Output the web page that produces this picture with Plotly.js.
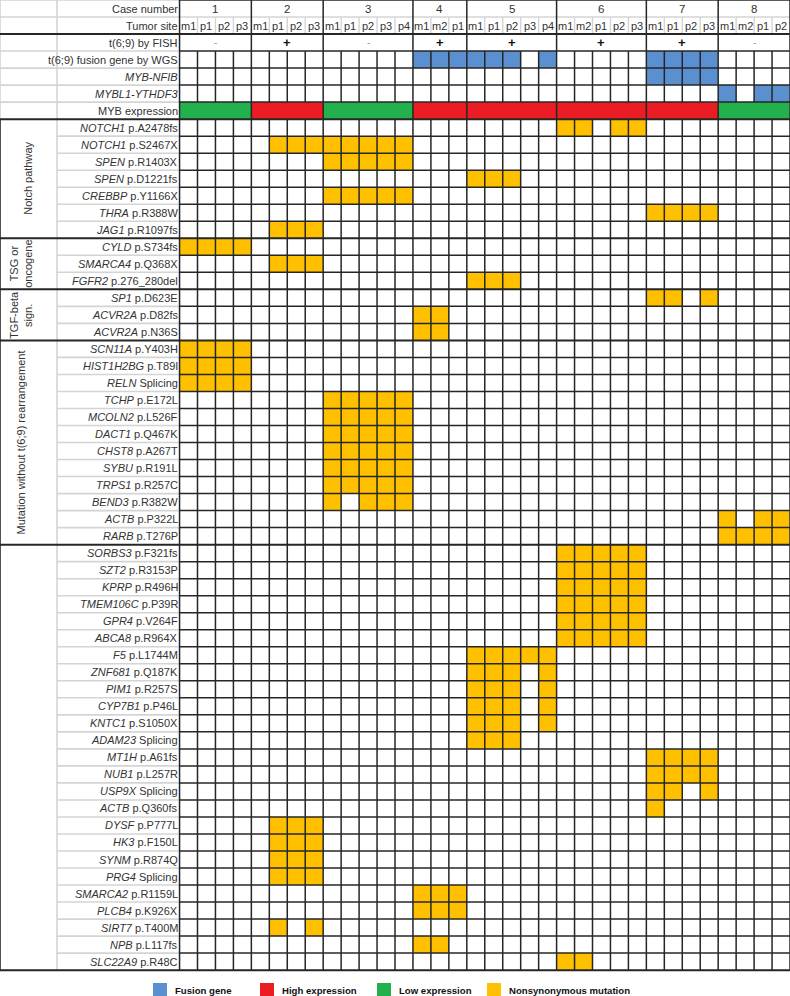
<!DOCTYPE html>
<html><head><meta charset="utf-8">
<script src="https://cdn.plot.ly/plotly-3.0.1.min.js"></script>
<style>html,body{margin:0;padding:0;background:#fff}#chart{width:790px;height:996px}</style>
</head><body><div id="chart"></div>
<script>
// ---------------- DATA ----------------
const caseNumbers = ['1','2','3','4','5','6','7','8'];
const tumorSites = [
  ['m1','p1','p2','p3'],
  ['m1','p1','p2','p3'],
  ['m1','p1','p2','p3','p4'],
  ['m1','m2','p1'],
  ['m1','p1','p2','p3','p4'],
  ['m1','m2','p1','p2','p3'],
  ['m1','p1','p2','p3'],
  ['m1','m2','p1','p2']
];
const fishResult = ['-','+','-','+','+','+','+','-'];
const mybExpression = ['Low','High','Low','High','High','High','High','Low'];
const headerLabels = ['Case number','Tumor site','t(6;9) by FISH','t(6;9) fusion gene by WGS','<i>MYB-NFIB</i>','<i>MYBL1-YTHDF3</i>','MYB expression'];
const fusionSamples = [
  ['4m1','4m2','4p1','5m1','5p1','5p2','5p4','7m1','7p1','7p2','7p3'],
  ['7m1','7p1','7p2','7p3'],
  ['8m1','8p1','8p2']
];
const groupNames = ['Notch pathway','TSG or<br>oncogene','TGF-beta<br>sign.','Mutation without t(6;9) rearrangement',''];
const geneNames = [
  'NOTCH1','NOTCH1','SPEN','SPEN','CREBBP','THRA','JAG1',
  'CYLD','SMARCA4','FGFR2',
  'SP1','ACVR2A','ACVR2A',
  'SCN11A','HIST1H2BG','RELN','TCHP','MCOLN2','DACT1','CHST8','SYBU','TRPS1','BEND3','ACTB','RARB',
  'SORBS3','SZT2','KPRP','TMEM106C','GPR4','ABCA8','F5','ZNF681','PIM1','CYP7B1','KNTC1','ADAM23',
  'MT1H','NUB1','USP9X','ACTB','DYSF','HK3','SYNM','PRG4','SMARCA2','PLCB4','SIRT7','NPB','SLC22A9'
];
const geneChanges = [
  'p.A2478fs','p.S2467X','p.R1403X','p.D1221fs','p.Y1166X','p.R388W','p.R1097fs',
  'p.S734fs','p.Q368X','p.276_280del',
  'p.D623E','p.D82fs','p.N36S',
  'p.Y403H','p.T89I','Splicing','p.E172L','p.L526F','p.Q467K','p.A267T','p.R191L','p.R257C','p.R382W','p.P322L','p.T276P',
  'p.F321fs','p.R3153P','p.R496H','p.P39R','p.V264F','p.R964X','p.L1744M','p.Q187K','p.R257S','p.P46L','p.S1050X','Splicing',
  'p.A61fs','p.L257R','Splicing','p.Q360fs','p.P777L','p.F150L','p.R874Q','Splicing','p.R1159L','p.K926X','p.T400M','p.L117fs','p.R48C'
];
const geneGroup = [
  0,0,0,0,0,0,0,
  1,1,1,
  2,2,2,
  3,3,3,3,3,3,3,3,3,3,3,3,
  4,4,4,4,4,4,4,4,4,4,4,4,4,4,4,4,4,4,4,4,4,4,4,4,4
];
const mutatedSamples = [
  ['6m1','6m2','6p2','6p3'],
  ['2p1','2p2','2p3','3m1','3p1','3p2','3p3','3p4'],
  ['3m1','3p1','3p2','3p3','3p4'],
  ['5m1','5p1','5p2'],
  ['3m1','3p1','3p2','3p3','3p4'],
  ['7m1','7p1','7p2','7p3'],
  ['2p1','2p2','2p3'],
  ['1m1','1p1','1p2','1p3'],
  ['2p1','2p2','2p3'],
  ['5m1','5p1','5p2'],
  ['7m1','7p1','7p3'],
  ['4m1','4m2'],
  ['4m1','4m2'],
  ['1m1','1p1','1p2','1p3'],
  ['1m1','1p1','1p2','1p3'],
  ['1m1','1p1','1p2','1p3'],
  ['3m1','3p1','3p2','3p3','3p4'],
  ['3m1','3p1','3p2','3p3','3p4'],
  ['3m1','3p1','3p2','3p3','3p4'],
  ['3m1','3p1','3p2','3p3','3p4'],
  ['3m1','3p1','3p2','3p3','3p4'],
  ['3m1','3p1','3p2','3p3','3p4'],
  ['3m1','3p2','3p3','3p4'],
  ['8m1','8p1','8p2'],
  ['8m1','8m2','8p1','8p2'],
  ['6m1','6m2','6p1','6p2','6p3'],
  ['6m1','6m2','6p1','6p2','6p3'],
  ['6m1','6m2','6p1','6p2','6p3'],
  ['6m1','6m2','6p1','6p2','6p3'],
  ['6m1','6m2','6p1','6p2','6p3'],
  ['6m1','6m2','6p1','6p2','6p3'],
  ['5m1','5p1','5p2','5p3','5p4'],
  ['5m1','5p1','5p2','5p4'],
  ['5m1','5p1','5p2','5p4'],
  ['5m1','5p1','5p2','5p4'],
  ['5m1','5p1','5p2','5p4'],
  ['5m1','5p1','5p2'],
  ['7m1','7p1','7p2','7p3'],
  ['7m1','7p1','7p2','7p3'],
  ['7m1','7p1','7p3'],
  ['7m1'],
  ['2p1','2p2','2p3'],
  ['2p1','2p2','2p3'],
  ['2p1','2p2','2p3'],
  ['2p1','2p2','2p3'],
  ['4m1','4m2','4p1'],
  ['4m1','4m2','4p1'],
  ['2p1','2p3'],
  ['4m1','4m2'],
  ['6m1','6m2']
];
const legendLabels = ['Fusion gene','High expression','Low expression','Nonsynonymous mutation'];

// ---------------- STYLE / LAYOUT ----------------
const COL = {mut:'#FFC000', fusion:'#5A8FD0', high:'#EC1C24', low:'#22B14C'};
const legendColors = [COL.fusion, COL.high, COL.low, COL.mut];
const legendPx = [153, 260, 377, 487];
const W = 790, H = 996;
const xRange = [-10, 34];
const pxPerX = W / (xRange[1] - xRange[0]);
const rowPx = 17.02;
const yMax = H / rowPx;
const xOf = px => xRange[0] + px / pxPerX;
const FONT = 'Liberation Sans, Arial, Helvetica, sans-serif';
const TXT = '#333333';
const DARK = '#262626', LIGHT = '#d4d4d4';

// ---------------- BUILD ----------------
const sampleIds = [];
const caseStart = [];
tumorSites.forEach((sites, ci) => { caseStart.push(sampleIds.length); sites.forEach(s => sampleIds.push(caseNumbers[ci] + s)); });
caseStart.push(sampleIds.length);
const nCols = sampleIds.length;
const colIndex = {}; sampleIds.forEach((id, i) => colIndex[id] = i);
const nHeader = headerLabels.length;
const nRows = nHeader + geneNames.length;

const z = Array.from({length: nRows}, () => Array(nCols).fill(null));
fusionSamples.forEach((list, r) => list.forEach(id => { z[3 + r][colIndex[id]] = 2; }));
mybExpression.forEach((lvl, ci) => { for (let c = caseStart[ci]; c < caseStart[ci + 1]; c++) z[6][c] = (lvl === 'High') ? 3 : 4; });
mutatedSamples.forEach((list, g) => list.forEach(id => { z[nHeader + g][colIndex[id]] = 1; }));

const heat = {
  type: 'heatmap',
  x: sampleIds.map((_, i) => i + 0.5),
  y: z.map((_, r) => r + 0.5),
  z: z, zmin: 0.5, zmax: 4.5, zsmooth: false,
  colorscale: [[0, COL.mut], [0.25, COL.mut], [0.25, COL.fusion], [0.5, COL.fusion], [0.5, COL.high], [0.75, COL.high], [0.75, COL.low], [1, COL.low]],
  showscale: false, hoverinfo: 'skip'
};

// group boundaries
const groupBounds = [nHeader];
for (let g = 1; g < geneGroup.length; g++) if (geneGroup[g] !== geneGroup[g - 1]) groupBounds.push(nHeader + g);
groupBounds.push(nRows);
const thickRows = [2].concat(groupBounds);
const caseBounds = caseStart.slice();
const xGroupCol = xOf(57);

const shapes = [];
const hline = (y, x0, x1, color, w) => shapes.push({type: 'line', xref: 'x', yref: 'y', x0: x0, x1: x1, y0: y, y1: y, line: {color: color, width: w}});
const vline = (x, y0, y1, color, w) => shapes.push({type: 'line', xref: 'x', yref: 'y', x0: x, x1: x, y0: y0, y1: y1, line: {color: color, width: w}});

// light lines
for (let b = 0; b < nHeader; b++) if (b !== 2) hline(b, xRange[0], 0, LIGHT, 1.6);
hline(1, 0, nCols, LIGHT, 1.4);
for (let b = nHeader + 1; b < nRows; b++) if (!thickRows.includes(b)) hline(b, xGroupCol, 0, LIGHT, 1.6);
vline(xGroupCol, 0, nRows, LIGHT, 1.6);
vline(xRange[0], 0, nHeader, LIGHT, 1.6);
for (let c = 0; c <= nCols; c++) if (!caseBounds.includes(c)) vline(c, 1, 2, LIGHT, 1.4);

// dark lines
hline(0, 0, nCols, DARK, 1.5);
for (let b = 3; b < nHeader; b++) hline(b, 0, nCols, DARK, 1.5);
for (let b = nHeader + 1; b < nRows; b++) if (!thickRows.includes(b)) hline(b, 0, nCols, DARK, 1.5);
for (let c = 0; c <= nCols; c++) {
  if (caseBounds.includes(c)) vline(c, 0, nRows, DARK, 1.5);
  else { vline(c, 3, 6, DARK, 1.5); vline(c, nHeader, nRows, DARK, 1.5); }
}
vline(xRange[0], nHeader, nRows, DARK, 1.6);
thickRows.forEach(b => hline(b, xRange[0], nCols, DARK, 2));

// annotations
const ann = [];
const txt = (o) => ann.push(Object.assign({xref: 'x', yref: 'y', showarrow: false, yanchor: 'middle', font: {family: FONT, size: 11, color: TXT}}, o));
headerLabels.forEach((t, r) => txt({x: 0, y: r + 0.5, xanchor: 'right', text: t}));
caseNumbers.forEach((t, ci) => txt({x: (caseStart[ci] + caseStart[ci + 1]) / 2, y: 0.5, xanchor: 'center', text: t, font: {family: FONT, size: 11.5, color: TXT}}));
sampleIds.forEach((id, c) => { const ci = caseNumbers.findIndex((n, k) => c >= caseStart[k] && c < caseStart[k + 1]); txt({x: c + 0.5, y: 1.5, xanchor: 'center', text: tumorSites[ci][c - caseStart[ci]]}); });
fishResult.forEach((t, ci) => txt({x: (caseStart[ci] + caseStart[ci + 1]) / 2, y: 2.5, xanchor: 'center', text: t === '+' ? '<b>+</b>' : '-', font: t === '+' ? {family: FONT, size: 13, color: '#111'} : {family: FONT, size: 10, color: '#999'}}));
geneNames.forEach((g, i) => txt({x: 0, y: nHeader + i + 0.5, xanchor: 'right', text: '<i>' + g + '</i> ' + geneChanges[i]}));
const groupLabelPx = [28, 21, 21, 21, 21];
groupNames.forEach((name, gi) => {
  if (!name) return;
  const y0 = groupBounds[gi], y1 = groupBounds[gi + 1];
  txt({x: xOf(groupLabelPx[gi]), y: (y0 + y1) / 2, xanchor: 'center', textangle: -90, text: name, font: {family: FONT, size: 11, color: TXT}});
});
legendLabels.forEach((t, i) => {
  shapes.push({type: 'rect', xref: 'paper', yref: 'paper', x0: legendPx[i] / W, x1: (legendPx[i] + 14) / W, y0: (H - 983) / H, y1: -0.002, line: {width: 0}, fillcolor: legendColors[i]});
  ann.push({xref: 'paper', yref: 'paper', x: (legendPx[i] + 20) / W, y: (H - 990) / H, xanchor: 'left', yanchor: 'middle', showarrow: false, text: '<b>' + t + '</b>', font: {family: FONT, size: 9.6, color: '#111'}});
});

const layout = {
  width: W, height: H, margin: {l: 0, r: 0, t: 0, b: 0, pad: 0},
  paper_bgcolor: '#fff', plot_bgcolor: '#fff', showlegend: false,
  xaxis: {range: xRange, showgrid: false, zeroline: false, showticklabels: false, ticks: '', fixedrange: true},
  yaxis: {range: [yMax, 0], showgrid: false, zeroline: false, showticklabels: false, ticks: '', fixedrange: true},
  shapes: shapes, annotations: ann
};
Plotly.newPlot('chart', [heat], layout, {displayModeBar: false, staticPlot: true});
</script></body></html>
